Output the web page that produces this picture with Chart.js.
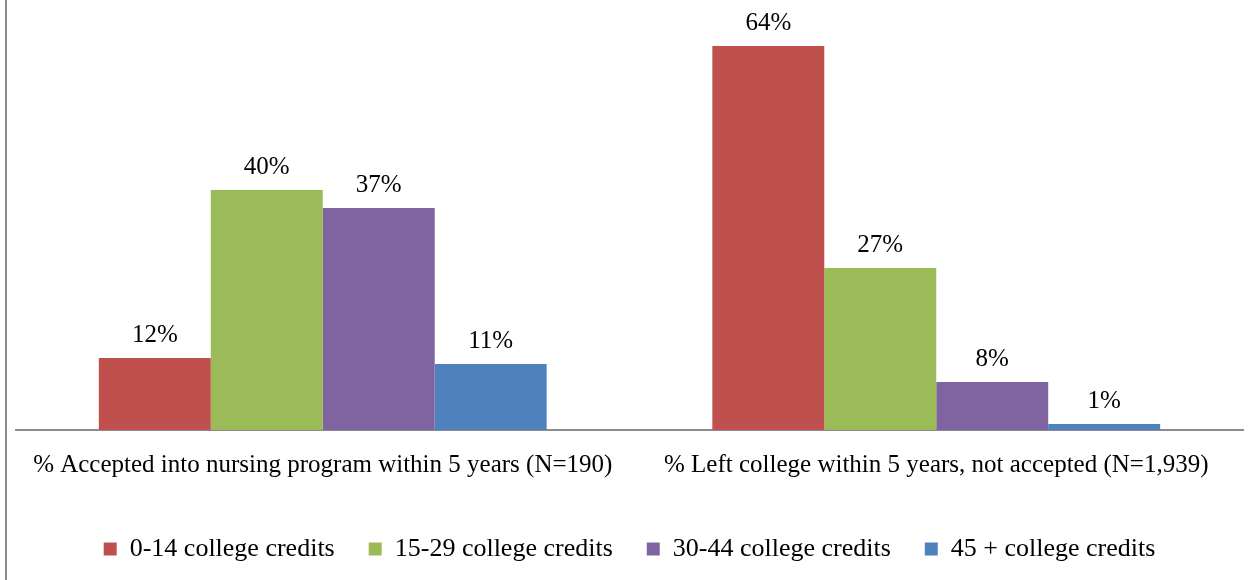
<!DOCTYPE html>
<html>
<head>
<meta charset="utf-8">
<script src="https://cdn.jsdelivr.net/npm/chart.js@4.4.1/dist/chart.umd.min.js"></script>
<style>
  html, body { margin: 0; padding: 0; background: #fff; }
  #wrap { position: relative; width: 1249px; height: 580px; }
  #wrap:before { content: ''; position: absolute; left: 5px; top: 0; bottom: 0; width: 2px; background: #8c8c8c; }
</style>
</head>
<body>
<div id="wrap"><canvas id="chart" width="1249" height="580"></canvas></div>
<script>
const categories = [
  '% Accepted into nursing program within 5 years (N=190)',
  '% Left college within 5 years, not accepted (N=1,939)'
];
const seriesNames = ['0-14 college credits', '15-29 college credits', '30-44 college credits', '45 + college credits'];
const credits0to14 = [12, 64];
const credits15to29 = [40, 27];
const credits30to44 = [37, 8];
const credits45plus = [11, 1];
const colors = ['#C0504D', '#9BBB59', '#8064A2', '#4F81BD'];

const font = "'Liberation Serif', 'Times New Roman', serif";

// draw the % labels above each bar
const barLabels = {
  id: 'barLabels',
  afterDatasetsDraw(chart) {
    const ctx = chart.ctx;
    ctx.save();
    ctx.font = '25px ' + font;
    ctx.fillStyle = '#000';
    ctx.textAlign = 'center';
    ctx.textBaseline = 'alphabetic';
    chart.data.datasets.forEach((ds, i) => {
      chart.getDatasetMeta(i).data.forEach((bar, j) => {
        ctx.fillText(ds.data[j] + '%', bar.x, bar.y - 16);
      });
    });
    ctx.restore();
  }
};

const values = [credits0to14, credits15to29, credits30to44, credits45plus];

new Chart(document.getElementById('chart'), {
  type: 'bar',
  data: {
    labels: categories,
    datasets: seriesNames.map((name, i) => ({
      label: name,
      data: values[i],
      backgroundColor: colors[i],
      categoryPercentage: 0.73,
      barPercentage: 1
    }))
  },
  options: {
    responsive: false,
    animation: false,
    layout: { padding: { left: 16, right: 6, top: 10, bottom: 8 } },
    scales: {
      y: { display: false, min: 0, max: 70 },
      x: {
        grid: { display: false, drawTicks: false },
        border: { color: '#8c8c8c', width: 2 },
        ticks: { color: '#000', font: { family: font, size: 25 }, padding: 20, maxRotation: 0 },
        afterFit(scale) { scale.height += 2; }
      }
    },
    plugins: {
      tooltip: { enabled: false },
      legend: {
        position: 'bottom',
        labels: {
          color: '#000',
          font: { family: font, size: 26 },
          boxWidth: 13,
          boxHeight: 13,
          padding: 34
        }
      }
    }
  },
  plugins: [barLabels]
});
</script>
</body>
</html>
